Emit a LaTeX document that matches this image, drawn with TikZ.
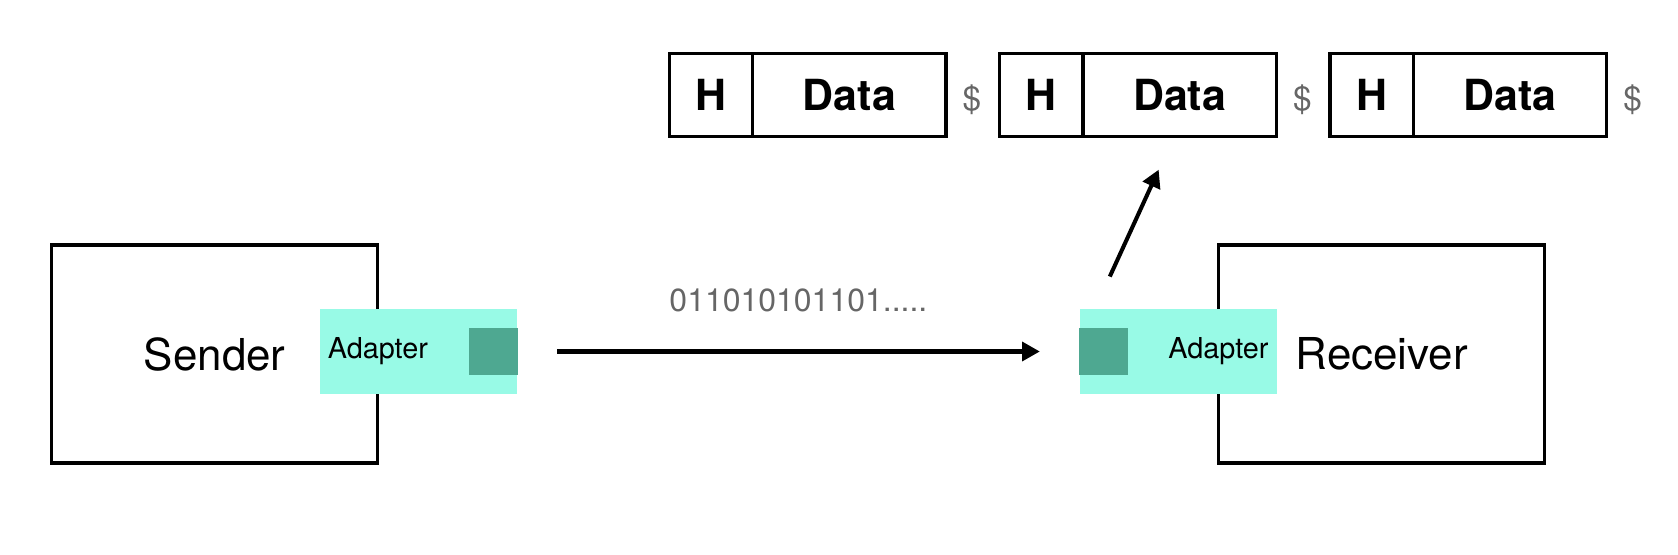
\documentclass[tikz,border=0pt]{standalone}
\usepackage{fontspec}
\setmainfont{TeX Gyre Heros}
\usepackage{tikz}
\usetikzlibrary{arrows.meta,positioning}
\definecolor{adaptergreen}{HTML}{98FAE6}
\definecolor{portgreen}{HTML}{4EA891}
\definecolor{bitgray}{HTML}{666666}

\begin{document}
\begin{tikzpicture}[
                host/.style={draw, line width=0.95pt, minimum width=3.26cm, minimum height=2.18cm, font=\fontsize{12.5}{15}\selectfont},
                adapter/.style={fill=adaptergreen, minimum width=1.97cm, minimum height=0.845cm, inner xsep=0.08cm, text width=1.81cm, font=\fontsize{8.2}{10}\selectfont},
                port/.style={fill=portgreen, minimum width=0.49cm, minimum height=0.47cm, inner sep=0pt, outer sep=0pt},
                pkt/.style={draw, line width=0.95pt, outer sep=0pt, minimum height=0.834cm, font=\bfseries\fontsize{12.2}{14}\selectfont},
                dollar/.style={text=bitgray, font=\fontsize{9.5}{11}\selectfont},
                flow/.style={-{Triangle[length=5pt,width=5.3pt]}, line width=1.15pt}
            ]
                \useasboundingbox (0,0) rectangle (16.78,5.54);
                \node[host] (sender) at (2.147,2.0) {Sender};
                \node[host] (receiver) at (13.817,2.0) {Receiver};
                \node[adapter, align=left] (sadapter) at (4.183,2.025) {Adapter};
                \node[adapter, align=right] (radapter) at (11.78,2.025) {Adapter};
                \node[port, anchor=east] (sport) at (sadapter.east) {};
                \node[port, anchor=west] (rport) at (radapter.west) {};
                \foreach \i in {1,2,3} {
                    \node[pkt, minimum width=0.834cm] (h\i) at ({7.11+3.303*(\i-1)},4.59) {H};
                    \node[pkt, minimum width=1.933cm, right=0pt of h\i] (d\i) {Data};
                    \node[dollar, anchor=base] (s\i) at ([xshift=0.26cm]d\i.base east) {\$};
                }
                \draw[flow] ([xshift=0.395cm]sadapter.east) -- ([xshift=-0.39cm]radapter.west)
                    node[midway, above=0.255cm, text=bitgray, font=\fontsize{9.1}{11}\selectfont] (bits) {011010101101.....};
                \draw[flow] ([shift={(0.31,0.32)}]radapter.north west) -- ([shift={(-0.21,-0.33)}]d2.south);
            \end{tikzpicture}
\end{document}
